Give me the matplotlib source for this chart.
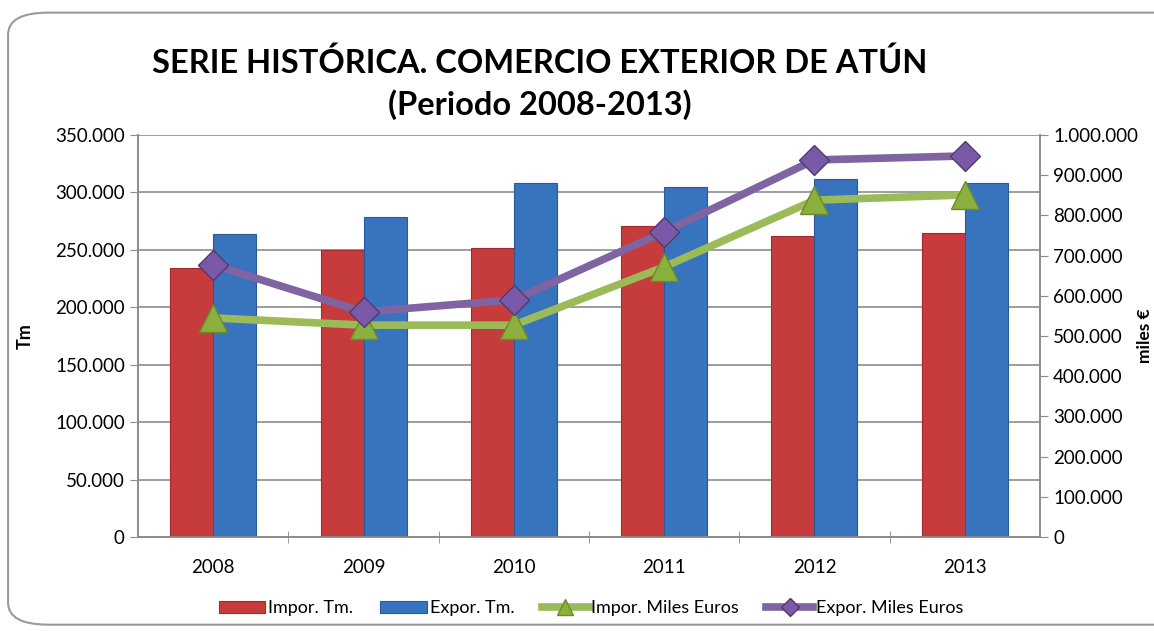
import matplotlib.pyplot as plt
import numpy as np
from matplotlib.patches import FancyBboxPatch
from matplotlib.ticker import FuncFormatter

plt.rcParams['font.family'] = ['Lato', 'DejaVu Sans']

# Datos
anios = ["2008", "2009", "2010", "2011", "2012", "2013"]
impor_tm = [234000, 250000, 252000, 271000, 262000, 265000]
expor_tm = [264000, 279000, 308000, 305000, 312000, 308000]
impor_eur = [545000, 527000, 527000, 672000, 838000, 851000]
expor_eur = [677000, 560000, 590000, 759000, 938000, 948000]

fig = plt.figure(figsize=(11.54, 6.31), dpi=100)

# Marco redondeado del grafico (sale por la derecha como en el original)
marco = FancyBboxPatch((0.007, 0.01), 1.05, 0.97, boxstyle="round,pad=0,rounding_size=0.035",
                       transform=fig.transFigure, facecolor="white", edgecolor="#9a9a9a",
                       linewidth=1.5, zorder=-10)
fig.patches.append(marco)

ax = fig.add_axes([0.1196, 0.149, 0.7816, 0.637])
ax2 = ax.twinx()
ax.set_zorder(1)
ax2.set_zorder(2)
ax.patch.set_visible(False)

x = np.arange(len(anios))
w = 0.286
ax.bar(x - w / 2, impor_tm, w, color="#c63c3c", edgecolor="#9e2a2a", linewidth=0.8,
       label="Impor. Tm.", zorder=3)
ax.bar(x + w / 2, expor_tm, w, color="#3873be", edgecolor="#285a99", linewidth=0.8,
       label="Expor. Tm.", zorder=3)

ax2.plot(x, impor_eur, color="#9bbb59", linewidth=5.5, marker="^", markersize=20,
         markerfacecolor="#8cb03e", markeredgecolor="#6b8a2a", label="Impor. Miles Euros")
ax2.plot(x, expor_eur, color="#8064a2", linewidth=5.5, marker="D", markersize=15,
         markerfacecolor="#7a5aa8", markeredgecolor="#4f3a70", label="Expor. Miles Euros")

fmt = FuncFormatter(lambda v, p: "{:,.0f}".format(v).replace(",", "."))

ax.set_xlim(-0.5, 5.5)
ax.set_ylim(0, 350000)
ax.set_yticks(np.arange(0, 350001, 50000))
ax.yaxis.set_major_formatter(fmt)
ax.grid(axis="y", color="#8c8c8c", linewidth=1.2, zorder=0)
ax.set_axisbelow(True)
ax.set_xticks(x)
ax.set_xticklabels(anios)
ax.set_xticks(np.arange(0.5, 5.5, 1), minor=True)
ax.tick_params(axis="x", which="major", length=0, pad=16, labelsize=13.5)
ax.tick_params(axis="x", which="minor", length=8, direction="inout", color="#8c8c8c")
ax.tick_params(axis="y", length=6, direction="out", color="#8c8c8c", labelsize=13.5)
ax.set_ylabel("Tm", fontsize=13, fontweight="bold")
ax.yaxis.set_label_coords(-0.116, 0.5)

ax2.set_ylim(0, 1000000)
ax2.set_yticks(np.arange(0, 1000001, 100000))
ax2.yaxis.set_major_formatter(fmt)
ax2.tick_params(axis="y", length=6, direction="out", color="#8c8c8c", labelsize=13.5)
ax2.set_ylabel("miles €", fontsize=12.5, fontweight="bold")
ax2.yaxis.set_label_coords(1.108, 0.5)

for a in (ax, ax2):
    for s in a.spines.values():
        s.set_color("#8c8c8c")
        s.set_linewidth(1.2)
    a.spines["top"].set_visible(False)

fig.text(0.468, 0.9, "SERIE HISTÓRICA. COMERCIO EXTERIOR DE ATÚN", ha="center", va="center",
         fontsize=23.5, fontweight="bold")
fig.text(0.468, 0.834, "(Periodo 2008-2013)", ha="center", va="center",
         fontsize=23.5, fontweight="bold")

h1, l1 = ax.get_legend_handles_labels()
h2, l2 = ax2.get_legend_handles_labels()
fig.legend(h1 + h2, l1 + l2, loc="center", bbox_to_anchor=(0.512, 0.036), ncol=4,
           frameon=False, fontsize=13, handlelength=2.6, handletextpad=0.15, columnspacing=1.5,
           markerscale=0.6)

fig.savefig("out.png", dpi=100)
